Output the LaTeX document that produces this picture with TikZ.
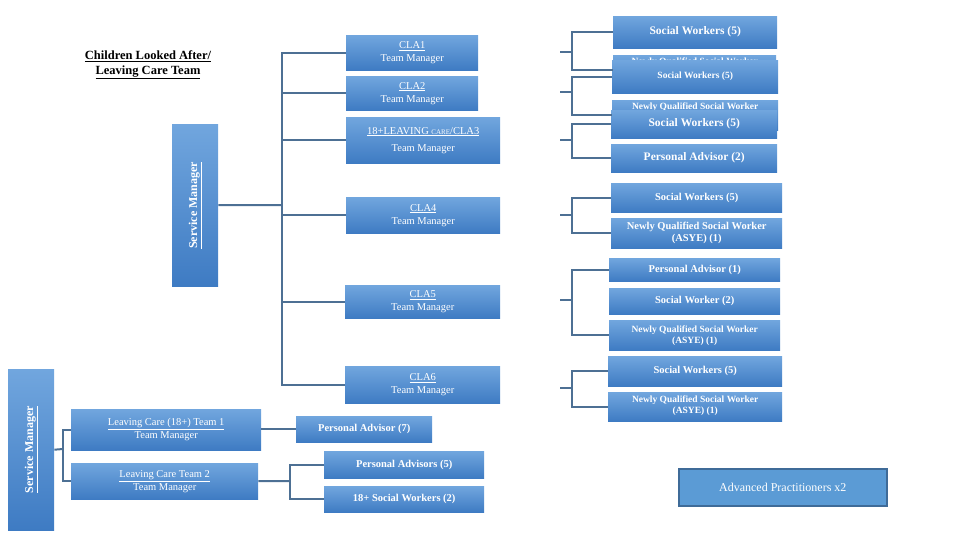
\documentclass[tikz,border=0pt]{standalone}
\usepackage{fontspec}
\setmainfont{Liberation Serif}
\usetikzlibrary{positioning}
\definecolor{boxtop}{HTML}{71A6DE}
\definecolor{boxbot}{HTML}{3E7BC3}
\definecolor{linkcol}{HTML}{4D7094}
\definecolor{apfill}{HTML}{5B9BD5}
\definecolor{apline}{HTML}{3F6B98}
\begin{document}
\begin{tikzpicture}[x=1pt,y=-1pt,
            box/.style={rectangle, anchor=north west, top color=boxtop, bottom color=boxbot, text=white, font=\fontsize{10.5}{13}\selectfont, align=center, inner sep=1pt},
            bold box/.style={box, font=\bfseries\fontsize{11.5}{13}\selectfont},
            small box/.style={box, font=\bfseries\fontsize{9.5}{11}\selectfont},
            mid box/.style={box, font=\bfseries\fontsize{10.5}{12}\selectfont},
            vlabel/.style={anchor=center, rotate=90, text=white, font=\bfseries\fontsize{12}{14}\selectfont},
            link/.style={draw=linkcol, line width=2pt}
        ]
        \useasboundingbox (0,0) rectangle (960,540);

        % Title
        \node[font=\bfseries\fontsize{12.5}{15}\selectfont, align=center] (title) at (148,65) {\underline{Children Looked After/}\\\underline{Leaving Care Team}};

        % Service managers
        \node[box, minimum width=46pt, minimum height=162pt] (sm1) at (172,124) {};
        \node[vlabel] at (sm1.center) {\underline{Service Manager}};
        \node[box, minimum width=46pt, minimum height=161pt] (sm2) at (8,369) {};
        \node[vlabel] at (sm2.center) {\underline{Service Manager}};

        % CLA team managers
        \node[box, minimum width=132pt, minimum height=35pt] (cla1) at (346,35) {\underline{CLA1}\\Team Manager};
        \node[box, minimum width=132pt, minimum height=34pt] (cla2) at (346,76) {\underline{CLA2}\\Team Manager};
        \node[box, minimum width=154pt, minimum height=46pt] (cla3) at (346,117) {\underline{18+LEAVING {\scriptsize CARE}/CLA3}\\[4pt]Team Manager};
        \node[box, minimum width=154pt, minimum height=36pt] (cla4) at (346,197) {\underline{CLA4}\\Team Manager};
        \node[box, minimum width=155pt, minimum height=33pt] (cla5) at (345,285) {\underline{CLA5}\\Team Manager};
        \node[box, minimum width=155pt, minimum height=37pt] (cla6) at (345,366) {\underline{CLA6}\\Team Manager};

        % Group CLA1 (partly hidden)
        \node[bold box, minimum width=164pt, minimum height=32pt] (sw1) at (613,16) {Social Workers (5)};
        \node[small box, minimum width=163pt, minimum height=30pt, text depth=18pt] (nq1) at (613,55) {Newly Qualified Social Worker};
        % Group CLA2 (partly hidden)
        \node[small box, minimum width=166pt, minimum height=33pt] (sw2) at (612,60) {Social Workers (5)};
        \node[small box, minimum width=166pt, minimum height=30pt, text depth=18pt] (nq2) at (612,100) {Newly Qualified Social Worker};
        % Group CLA3
        \node[bold box, minimum width=166pt, minimum height=28pt] (sw3) at (611,110) {Social Workers (5)};
        \node[bold box, minimum width=166pt, minimum height=28pt] (pa3) at (611,144) {Personal Advisor (2)};
        % Group CLA4
        \node[mid box, minimum width=171pt, minimum height=29pt] (sw4) at (611,183) {Social Workers (5)};
        \node[mid box, minimum width=171pt, minimum height=30pt] (nq4) at (611,218) {Newly Qualified Social Worker\\(ASYE) (1)};
        % Group CLA5
        \node[mid box, minimum width=171pt, minimum height=23pt] (pa5) at (609,258) {Personal Advisor (1)};
        \node[mid box, minimum width=171pt, minimum height=26pt] (sw5) at (609,288) {Social Worker (2)};
        \node[small box, minimum width=171pt, minimum height=30pt] (nq5) at (609,320) {Newly Qualified Social Worker\\(ASYE) (1)};
        % Group CLA6
        \node[mid box, minimum width=174pt, minimum height=30pt] (sw6) at (608,356) {Social Workers (5)};
        \node[small box, minimum width=174pt, minimum height=29pt] (nq6) at (608,392) {Newly Qualified Social Worker\\(ASYE) (1)\\[-6pt]};

        % Leaving care teams
        \node[box, minimum width=190pt, minimum height=41pt] (lc1) at (71,409) {\underline{Leaving Care (18+) Team 1}\\Team Manager};
        \node[box, minimum width=187pt, minimum height=36pt] (lc2) at (71,463) {\underline{Leaving Care Team 2}\\Team Manager};
        \node[mid box, minimum width=136pt, minimum height=26pt] (pa7) at (296,416) {Personal Advisor (7)};
        \node[mid box, minimum width=160pt, minimum height=27pt] (pa8) at (324,451) {Personal Advisors (5)};
        \node[mid box, minimum width=160pt, minimum height=26pt] (sw8) at (324,486) {18+ Social Workers (2)};

        % Advanced practitioners
        \node[rectangle, anchor=north west, fill=apfill, draw=apline, line width=1.5pt, text=white, font=\fontsize{12}{14}\selectfont, minimum width=208pt, minimum height=37pt] (ap) at (678,468) {Advanced Practitioners x2};

        % Connections: service manager to CLA teams
        \draw[link] (sm1.east) -- (282,205);
        \draw[link] (cla1.west) -| (282,53) |- (cla6.west);
        \foreach \t in {cla2,cla3,cla4,cla5} \draw[link] (\t.west) -- (\t.west -| 282,0);

        % Connections to social worker groups
        \coordinate (g1) at (560,52);
        \coordinate (g2) at (560,92);
        \coordinate (g3) at (560,140);
        \coordinate (g4) at (560,215);
        \coordinate (g5) at (560,300);
        \coordinate (g6) at (560,388);
        \draw[link] (g1) -- (572,52); \draw[link] (sw1.west) -| (572,70) -- (nq1.south west |- 0,70);
        \draw[link] (g2) -- (572,92); \draw[link] (sw2.west) -| (572,115) -- (nq2.south west |- 0,115);
        \draw[link] (g3) -- (572,140); \draw[link] (sw3.west) -| (572,140) |- (pa3.west);
        \draw[link] (g4) -- (572,215); \draw[link] (sw4.west) -| (572,215) |- (nq4.west);
        \draw[link] (g5) -- (572,300); \draw[link] (pa5.west) -| (572,300) |- (nq5.west);
        \draw[link] (g6) -- (572,388); \draw[link] (sw6.west) -| (572,388) |- (nq6.west);

        % Connections: leaving care
        \draw[link] (sm2.east) -- (63,449);
        \draw[link] (lc1.west) -| (63,449) |- (lc2.west);
        \draw[link] (lc1.east |- pa7.west) -- (pa7.west);
        \draw[link] (lc2.east) -- (290,481);
        \draw[link] (pa8.west) -| (290,481) |- (sw8.west);
\end{tikzpicture}
\end{document}
